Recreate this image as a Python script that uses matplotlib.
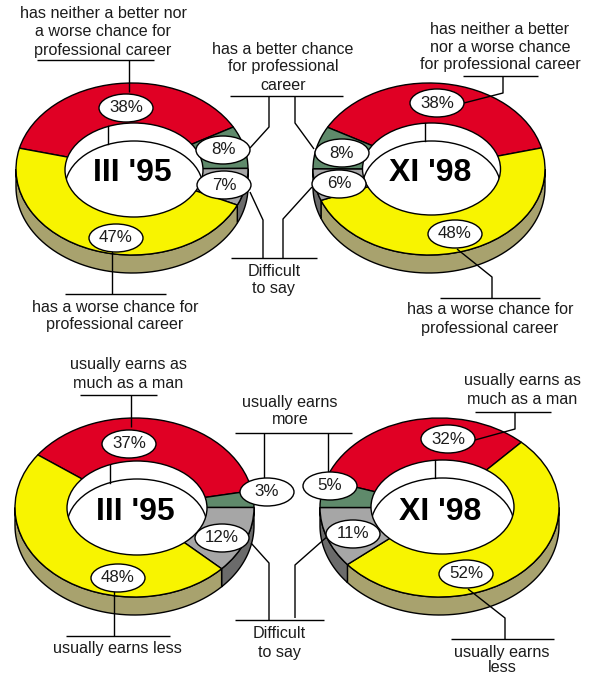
# Four 3D style donuts: women's career chances and earnings, III '95 vs XI '98
import numpy as np
import matplotlib
matplotlib.use("Agg")
import matplotlib.pyplot as plt
from matplotlib.patches import Ellipse

plt.rcParams['font.family'] = ['Liberation Sans', 'DejaVu Sans']

# Data, clockwise from the first slice
titles = ["III '95", "XI '98", "III '95", "XI '98"]
slice_names = [
    ["same", "better", "unsure", "worse"],
    ["same", "worse", "unsure", "better"],
    ["same", "more", "unsure", "less"],
    ["same", "less", "unsure", "more"],
]
shares = [
    [38, 8, 7, 47],
    [38, 48, 6, 8],
    [37, 3, 12, 48],
    [32, 52, 11, 5],
]
start_angles = [166, 151, 144, 162]

# Styles
W, H = 597, 675
top_colors = {"same": "#E00024", "better": "#5F8A6B", "more": "#5F8A6B",
              "unsure": "#A6A6A6", "worse": "#F8F400", "less": "#F8F400"}
side_colors = {"same": "#8A0016", "better": "#3E5A46", "more": "#3E5A46",
               "unsure": "#6B6B6B", "worse": "#A8A26E", "less": "#A8A26E"}
LW = 1.0
TXT = "#1c1c1c"
FS = 11.6
FS_PCT = 12.2

# Layout in pixels: outer centre and radii, hole centre and radii, wall depth, seam x
outer = [(132, 169, 116, 86), (429, 169, 116, 86),
         (134.5, 507.5, 119.5, 89.5), (439.5, 507.5, 119.5, 89.5)]
holes = [(134, 170, 69, 47), (431.5, 169, 69, 46),
         (137, 508, 70, 47), (442.5, 507, 71.5, 47)]
depth = [18, 18, 18, 18]
seams = [108, 425, 110, 435]
title_pos = [(132, 173), (430, 173), (135, 512), (440, 512)]

label_pos = [
    [(126, 108), (223, 150), (224, 185), (116, 238)],
    [(437, 103), (342, 153), (339, 184), (455, 234)],
    [(129, 444), (267, 492), (222, 538), (118, 578)],
    [(448, 439), (330, 486), (353, 534), (466, 574)],
]
# label order above follows shares except XI '98 panels, see this map
label_order = [[0, 1, 2, 3], [0, 3, 2, 1], [0, 1, 2, 3], [0, 3, 2, 1]]

# Annotation text: centre x, centre y of each line
texts = [
    ("has neither a better nor", 103, 14), ("a worse chance for", 103, 32), ("professional career", 103, 50),
    ("has a better chance", 283, 49), ("for professional", 283, 67), ("career", 283, 85),
    ("has neither a better", 500, 29), ("nor a worse chance", 500, 47), ("for professional career", 500, 65),
    ("Difficult", 274, 271), ("to say", 274, 289),
    ("has a worse chance for", 115, 307), ("professional career", 115, 325),
    ("has a worse chance for", 490, 310), ("professional career", 490, 328),
    ("usually earns as", 128, 364), ("much as a man", 128, 383),
    ("usually earns", 290, 402), ("more", 290, 420),
    ("usually earns as", 522, 381), ("much as a man", 522, 400),
    ("Difficult", 279.5, 633), ("to say", 279.5, 653),
    ("usually earns less", 117, 649),
    ("usually earns", 502, 652), ("less", 502, 667.5),
]

# Leader lines and underlines as pixel polylines
leaders = [
    [(37, 59.5), (154, 59.5)], [(128.5, 59.5), (128.5, 92)],
    [(230, 96), (343, 96)],
    [(269, 96), (269, 127), (250, 148)], [(295, 96), (295, 123), (314, 149)],
    [(463, 76), (538, 76)], [(503, 76), (503, 93), (464, 103)],
    [(111.5, 250), (111.5, 294)], [(65, 294), (166, 294)],
    [(231, 258), (317, 258)],
    [(250, 192), (263, 220), (263, 258)], [(312, 187), (283, 219), (283, 258)],
    [(457, 249), (492, 277), (492, 298)], [(440, 298), (540, 298)],
    [(80, 395), (157, 395)], [(131, 395), (131, 427)],
    [(235, 433), (352, 433)], [(263.5, 433), (263.5, 480)], [(328, 433), (328, 474)],
    [(474.5, 412), (551, 412)], [(515, 412), (515, 429), (475, 440)],
    [(114, 590), (114, 636)], [(66, 636), (170, 636)],
    [(235, 620), (324, 620)],
    [(251, 543), (269, 563), (269, 620)], [(329, 535), (295, 565), (295, 618)],
    [(468, 589), (505, 618), (505, 639)], [(450.5, 639), (554, 639)],
]


def draw_donut(fig, values, names, start, box, dep):
    cx, cy, rx, ry = box
    ax = fig.add_axes([(cx - rx) / W, 1 - (cy + ry + dep) / H, 2 * rx / W, (2 * ry + dep) / H])
    d = dep / ry

    # outside wall, only the front half shows
    edges = start - np.cumsum([0] + values) * 3.6
    for i in range(len(values)):
        a = min(edges[i], 0)
        b = max(edges[i + 1], -180)
        if a <= b:
            continue
        t = np.radians(np.linspace(a, b, 60))
        xs = np.r_[np.cos(t), np.cos(t)[::-1]]
        ys = np.r_[np.sin(t), np.sin(t)[::-1] - d]
        ax.fill(xs, ys, facecolor=side_colors[names[i]], edgecolor="black", lw=LW, clip_on=False)

    ax.pie(values, startangle=start, counterclock=False,
           colors=[top_colors[n] for n in names],
           wedgeprops={"edgecolor": "black", "linewidth": LW, "clip_on": False})
    ax.set_aspect("auto")
    ax.set_xlim(-1, 1)
    ax.set_ylim(-1 - d, 1)
    ax.axis("off")


fig = plt.figure(figsize=(W / 100, H / 100), dpi=100)

for i in range(4):
    draw_donut(fig, shares[i], slice_names[i], start_angles[i], outer[i], depth[i])

# Everything else sits on a pixel sized overlay
top = fig.add_axes([0, 0, 1, 1], zorder=5)
top.set_xlim(0, W)
top.set_ylim(H, 0)
top.axis("off")

for i in range(4):
    hx, hy, hrx, hry = holes[i]
    hole = Ellipse((hx, hy), 2 * hrx, 2 * hry, facecolor="white", edgecolor="black", lw=LW, zorder=2)
    top.add_patch(hole)
    back = Ellipse((hx, hy + depth[i]), 2 * hrx, 2 * hry, facecolor="none", edgecolor="black", lw=LW, zorder=3)
    top.add_patch(back)
    back.set_clip_path(hole)
    # seam on the inside wall, between the two hole outlines
    u = (seams[i] - hx) / hrx
    y_up = hy - hry * np.sqrt(1 - u ** 2)
    top.plot([seams[i], seams[i]], [y_up, y_up + depth[i]], color="black", lw=LW, zorder=3)
    top.text(title_pos[i][0], title_pos[i][1], titles[i], fontsize=23, fontweight="bold",
             ha="center", va="center", color="black", zorder=4)

for line in leaders:
    xs = [p[0] for p in line]
    ys = [p[1] for p in line]
    top.plot(xs, ys, color="black", lw=LW, zorder=5, solid_capstyle="butt")

for i in range(4):
    for j in range(4):
        k = label_order[i][j]
        x, y = label_pos[i][j]
        top.add_patch(Ellipse((x, y), 54, 28, facecolor="white", edgecolor="black", lw=LW, zorder=6))
        top.text(x, y, str(shares[i][k]) + "%", fontsize=FS_PCT, ha="center", va="center", color=TXT, zorder=7)

for s, x, y in texts:
    top.text(x, y, s, fontsize=FS, ha="center", va="center", color=TXT)

fig.savefig("out.png", dpi=100)
